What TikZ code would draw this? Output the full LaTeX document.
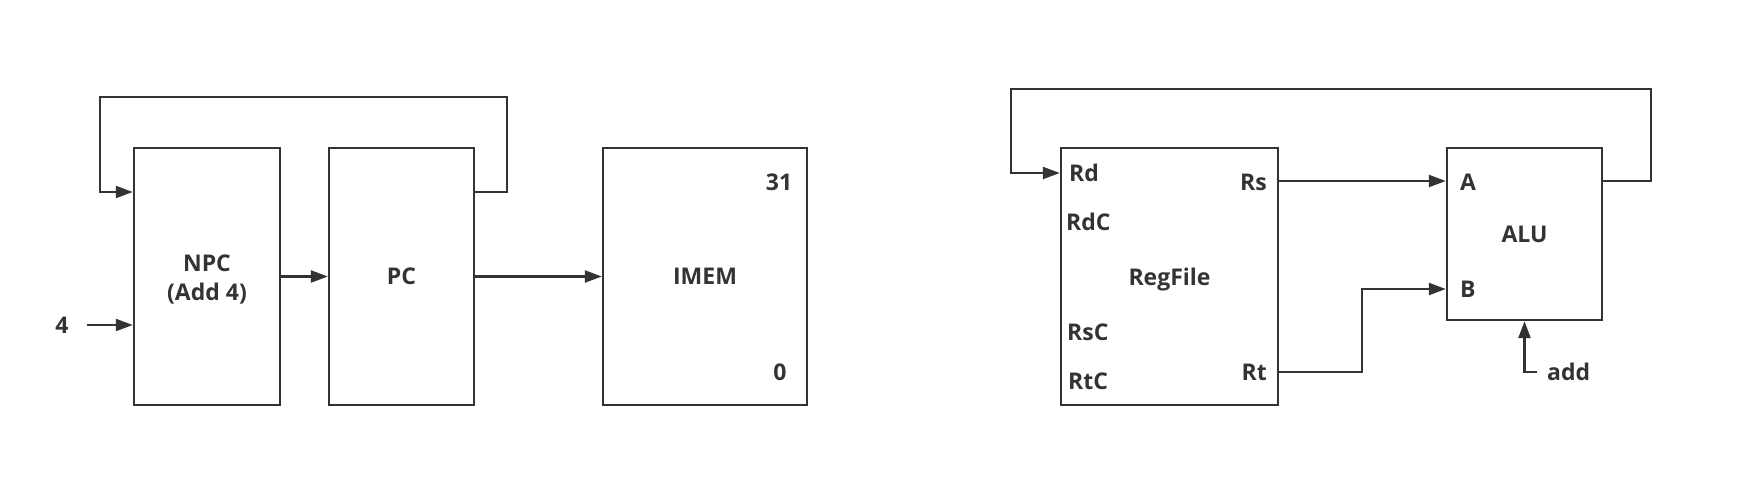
\documentclass[tikz,border=0pt]{standalone}
\usepackage{fontspec}
\setmainfont{Open Sans}
\usetikzlibrary{arrows.meta}
\definecolor{ink}{HTML}{333333}
\begin{document}
\begin{tikzpicture}[x=1pt,y=-1pt,
  line width=2.4pt, draw=ink,
  txt/.style={font=\fontsize{23}{29}\selectfont\bfseries, text=ink},
  box/.style={draw=ink, rectangle, inner sep=0pt, align=center, txt},
  lbl/.style={inner sep=0pt, txt},
  arr/.style={draw=ink, -{Triangle[length=17pt,width=12pt]}},
  wire/.style={draw=ink}]
\useasboundingbox[fill=white] (0,0) rectangle (1749,485);

% left part
\node[box, minimum width=146pt, minimum height=257pt] (NPC) at (207,276.5) {\rule{0pt}{23pt}NPC\\(Add 4)};
\node[box, minimum width=145pt, minimum height=257pt] (PC) at (401.5,276.5) {PC};
\node[box, minimum width=204pt, minimum height=257pt] (IMEM) at (705,276.5) {IMEM};
\node[lbl] (n31) at (779,182) {31};
\node[lbl] (n0) at (780,372) {0};
\node[lbl] (four) at (62,325) {4};

\coordinate (loopL) at (100,97);
\coordinate (loopR) at (507,97);
\coordinate (fbY) at (0,192);

\draw[arr] (PC.east |- fbY) -| (loopR) -| (loopL) |- (NPC.west |- fbY);
\draw[arr] (NPC.east) -- (PC.west);
\draw[arr] (PC.east) -- (IMEM.west);
\draw[arr] ([xshift=17pt]four.east) -- (NPC.west |- four);

% right part
\node[box, minimum width=217pt, minimum height=257pt] (RegFile) at (1169.5,276.5) {\rule{0pt}{24pt}RegFile};
\node[box, minimum width=155pt, minimum height=172pt] (ALU) at (1524.5,234) {ALU};

\node[lbl, anchor=west] (Rd) at (1068,173) {Rd};
\node[lbl, anchor=west] (RdC) at (1065,222) {RdC};
\node[lbl, anchor=west] (RsC) at (1066,332) {RsC};
\node[lbl, anchor=west] (RtC) at (1067,381) {RtC};
\node[lbl, anchor=east] (Rs) at (1268,182) {Rs};
\node[lbl, anchor=east] (Rt) at (1268,372) {Rt};
\node[lbl, anchor=west] (A) at (1459,182) {A};
\node[lbl, anchor=west] (B) at (1459,289) {B};
\node[lbl, anchor=west] (add) at (1546,372) {add};

\coordinate (rtop) at (1651,89);
\coordinate (ltop) at (1011,89);
\coordinate (Alev) at (0,181);
\coordinate (Rdlev) at (0,173);
\coordinate (Rtlev) at (0,372);
\coordinate (bend) at (1362,289);

\draw[arr] (ALU.east |- Alev) -| (rtop) -| (ltop) |- (RegFile.west |- Rdlev);
\draw[arr] (RegFile.east |- Alev) -- (ALU.west |- Alev);
\draw[arr] (RegFile.east |- Rtlev) -| (bend) -- (ALU.west |- bend);
\draw[arr] ([xshift=-9pt]add.west) -| (ALU.south);
\end{tikzpicture}
\end{document}
